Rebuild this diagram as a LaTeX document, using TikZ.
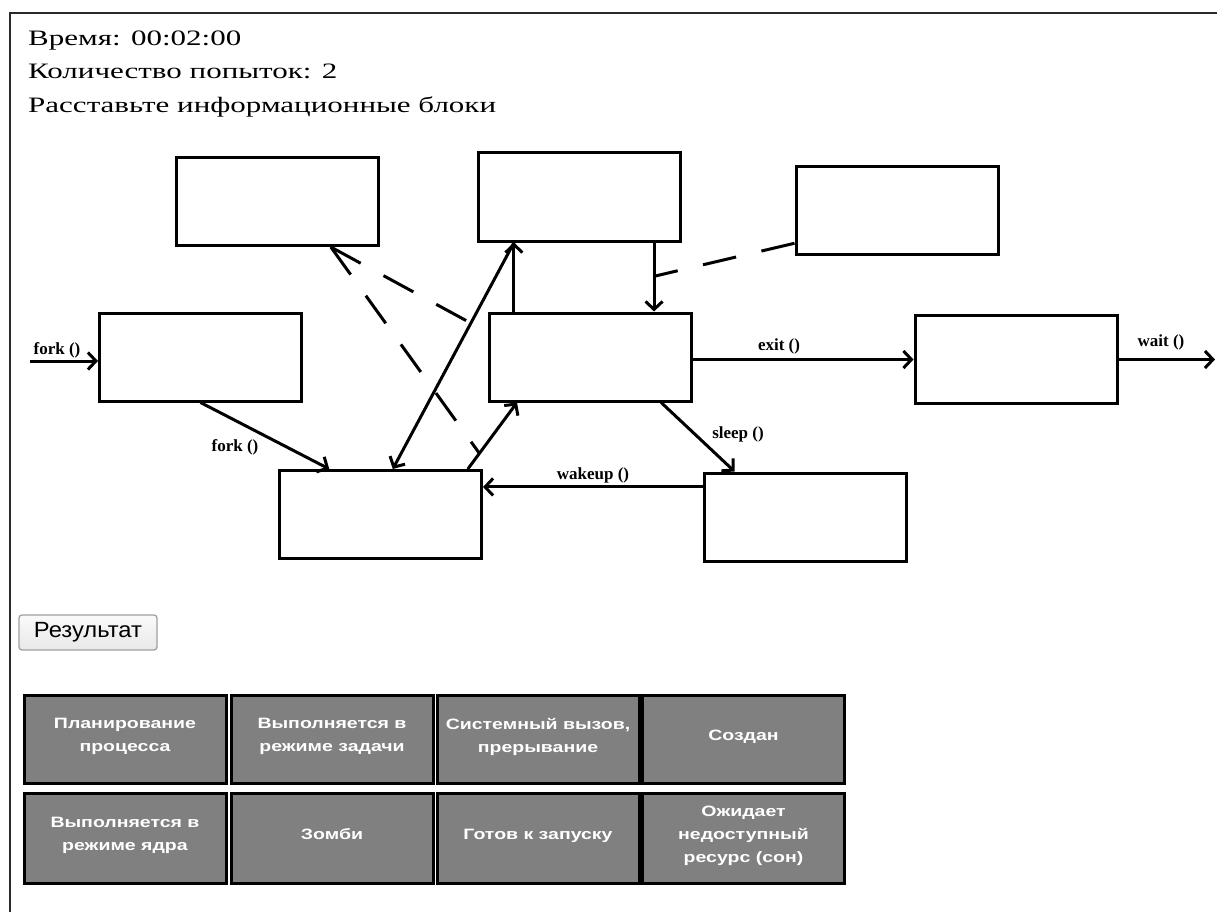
\documentclass[tikz,border=0pt]{standalone}
\usepackage{fontspec}
\setmainfont{Liberation Serif}
\newfontfamily\hdrfont[FakeStretch=1.41]{Liberation Serif}
\newfontfamily\tilefont[FakeStretch=1.3]{Liberation Sans}
\newfontfamily\btnfont[FakeStretch=1.08]{Liberation Sans}
\usetikzlibrary{arrows.meta,calc}
\definecolor{framegray}{HTML}{2A2A2A}
\definecolor{tilegray}{HTML}{808080}
\definecolor{btnborder}{HTML}{A0A0A0}
\tikzset{
  frameline/.style={draw=framegray, line width=2pt},
  hdr/.style={anchor=base west, inner sep=0, font=\hdrfont\fontsize{22}{26}\selectfont},
  stbox/.style={draw, line width=3pt, fill=white, minimum width=202pt, minimum height=88pt, inner sep=0},
  arr/.style={line width=3pt, -{Straight Barb[length=8pt,width=17pt]}},
  dsh/.style={line width=3pt, dash pattern=on 34pt off 26pt},
  lbl/.style={inner sep=0, font=\fontsize{17}{17}\selectfont\bfseries},
  tile/.style={draw=black, line width=3pt, fill=tilegray, minimum width=202pt, minimum height=88pt,
    inner sep=0, align=center, text=white, text depth=8pt,
    font=\tilefont\bfseries\fontsize{15}{23}\selectfont},
  btn/.style={draw=btnborder, line width=1.3pt, rounded corners=3pt, top color=white!96!gray,
    bottom color=white!82!gray, minimum width=138pt, minimum height=35pt, inner sep=0,
    font=\btnfont\fontsize{22}{22}\selectfont}
}
\begin{document}
\begin{tikzpicture}[x=1pt,y=-1pt]
\useasboundingbox (0,0) rectangle (1217,912);
\fill[white] (0,0) rectangle (1217,912);
% page frame: left and top edges only
\draw[frameline] (10,912) -- (10,13) -- (1217,13);

% header lines
\node[hdr] (t1) at (28,46) {Время: 00:02:00};
\node[hdr] (t2) at (28,79) {Количество попыток: 2};
\node[hdr] (t3) at (28,113) {Расставьте информационные блоки};

% empty state boxes
\node[stbox] (A) at (277.5,201.5) {};
\node[stbox] (B) at (579,197) {};
\node[stbox] (C) at (897,210.5) {};
\node[stbox] (D) at (200.5,357) {};
\node[stbox] (E) at (590,357) {};
\node[stbox] (F) at (1016,359.5) {};
\node[stbox] (G) at (380.5,514.5) {};
\node[stbox] (H) at (805.5,517) {};

% attachment points on the box edges
\coordinate (fin) at (30,361);
\coordinate (gN1) at ($(G.north west)!0.25!(G.north east)$);
\coordinate (gN2) at ($(G.north west)!0.56!(G.north east)$);
\coordinate (gN3) at ($(G.north west)!0.926!(G.north east)$);
\coordinate (bS1) at ($(B.south west)!0.183!(B.south east)$);
\coordinate (bS2) at ($(B.south west)!0.866!(B.south east)$);
\coordinate (eN1) at ($(E.north west)!0.129!(E.north east)$);
\coordinate (eS1) at ($(E.south west)!0.144!(E.south east)$);
\coordinate (eS2) at ($(E.south west)!0.847!(E.south east)$);
\coordinate (hN) at ($(H.north west)!0.154!(H.north east)$);
\coordinate (hW) at ($(H.north west)!0.17!(H.south west)$);
\coordinate (cW) at ($(C.north west)!0.86!(C.south west)$);
\coordinate (aS) at ($(A.south west)!0.76!(A.south east)$);
\coordinate (fout) at (1215,359.5);

% transitions
\draw[arr] (fin) -- (fin -| D.west);
\draw[arr] (D.south) -- (gN1);
\draw[arr] (eN1) -- (eN1 |- B.south);
\draw[arr] (bS1) -- (gN2);
\draw[arr] (gN3) -- (eS1);
\draw[arr] (bS2) -- (bS2 |- E.north);
\draw[arr] (F.west -| E.east) -- (F.west);
\draw[arr] (F.east) -- (fout);
\draw[arr] (eS2) -- (hN);
\draw[arr] (hW) -- (hW -| G.east);

% dashed pointers to transitions
\coordinate (be) at ($(bS2)!0.49!(bS2 |- E.north)$);
\coordinate (bg) at ($(gN2)!0.644!(bS1)$);
\coordinate (ge) at ($(gN3)!0.235!(eS1)$);
\draw[dsh] (cW) -- (be);
\draw[dsh] (aS) -- (bg);
\draw[dsh] (aS) -- (ge);

% transition labels
\node[lbl] (l1) at (57,350) {fork ()};
\node[lbl] (l2) at (235,447) {fork ()};
\node[lbl] (l3) at (779,346) {exit ()};
\node[lbl] (l4) at (1161,342) {wait ()};
\node[lbl] (l5) at (738,434) {sleep ()};
\node[lbl] (l6) at (593,475) {wakeup ()};

% result button
\node[btn] (res) at (88,632.5) {Результат};

% answer tiles
\node[tile] (k1) at (125,739) {Планирование\\процесса};
\node[tile] (k2) at (332,739) {Выполняется в\\режиме задачи};
\node[tile] (k3) at (538,739) {Системный вызов,\\прерывание};
\node[tile] (k4) at (743.5,739) {Создан};
\node[tile, minimum height=90pt] (k5) at (125,838) {Выполняется в\\режиме ядра};
\node[tile, minimum height=90pt] (k6) at (332,838) {Зомби};
\node[tile, minimum height=90pt] (k7) at (538,838) {Готов к запуску};
\node[tile, minimum height=90pt] (k8) at (743.5,838) {Ожидает\\недоступный\\ресурс (сон)};
\end{tikzpicture}
\end{document}
